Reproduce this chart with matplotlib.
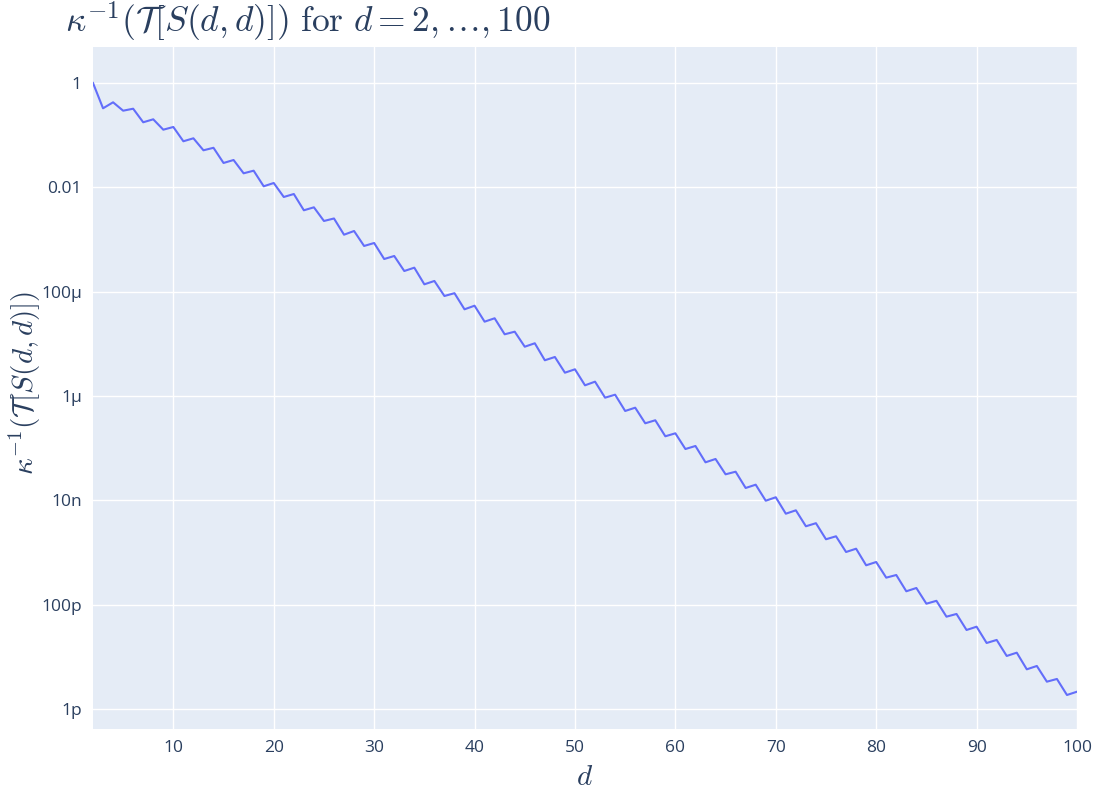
import numpy as np
import matplotlib
matplotlib.use("Agg")
import matplotlib.pyplot as plt

# d = 2..100 and the value (as powers of ten)
d = list(range(2, 101))
log_vals = [
    0.0, -0.485, -0.370, -0.531, -0.493, -0.753, -0.696, -0.895, -0.843,
    -1.117, -1.060, -1.290, -1.242, -1.533, -1.476, -1.731, -1.681, -1.980,
    -1.917, -2.185, -2.128, -2.440, -2.383, -2.645, -2.597, -2.908, -2.837,
    -3.124, -3.067, -3.374, -3.316, -3.604, -3.540, -3.859, -3.795, -4.083,
    -4.029, -4.338, -4.269, -4.575, -4.510, -4.817, -4.767, -5.055, -4.989,
    -5.315, -5.252, -5.553, -5.488, -5.795, -5.725, -6.032, -5.975, -6.287,
    -6.224, -6.523, -6.465, -6.772, -6.715, -7.016, -6.958, -7.271, -7.207,
    -7.501, -7.451, -7.763, -7.700, -8.007, -7.941, -8.256, -8.191, -8.497,
    -8.438, -8.746, -8.689, -8.990, -8.927, -9.245, -9.182, -9.482, -9.431,
    -9.743, -9.680, -9.981, -9.926, -10.230, -10.178, -10.485, -10.422,
    -10.734, -10.676, -10.983, -10.920, -11.239, -11.175, -11.476, -11.424,
    -11.731, -11.668,
]
vals = 10.0 ** np.array(log_vals)

xticks = [10, 20, 30, 40, 50, 60, 70, 80, 90, 100]
yticks = [1, 1e-2, 1e-4, 1e-6, 1e-8, 1e-10, 1e-12]
ytick_labels = ["1", "0.01", "100µ", "1µ", "10n", "100p", "1p"]

txt = "#2a3f5f"
plt.rcParams["mathtext.fontset"] = "cm"
plt.rcParams["font.family"] = ["Open Sans", "DejaVu Sans"]

fig = plt.figure(figsize=(11.02, 7.97), dpi=100)
W, H = 1102, 797
ax = fig.add_axes([93 / W, 1 - 729 / H, (1077 - 93) / W, (729 - 47) / H])
ax.set_facecolor("#E5ECF6")

ax.semilogy(d, vals, color="#636EFA", lw=1.5, zorder=3)

ax.set_xlim(2, 100)
ax.set_ylim(10 ** -12.383, 10 ** 0.690)
ax.set_xticks(xticks)
ax.set_xticklabels([str(t) for t in xticks])
ax.set_yticks(yticks)
ax.set_yticklabels(ytick_labels)
ax.yaxis.set_minor_locator(matplotlib.ticker.NullLocator())
ax.grid(True, color="white", lw=1.0, zorder=1)
ax.set_axisbelow(True)
for s in ax.spines.values():
    s.set_visible(False)
ax.tick_params(length=0, labelsize=12.5, colors=txt, pad=8)

ax.set_xlabel(r"$d$", fontsize=21, color=txt, labelpad=5)
fig.text(25 / W, 1 - 383 / H, r"$\kappa^{-1}(\mathcal{T}[S(d,d)])$", fontsize=21,
         color=txt, rotation=90, ha="center", va="center")
fig.text(65 / W, 1 - 21 / H, r"$\kappa^{-1}(\mathcal{T}[S(d,d)])\ \mathrm{for}\ d=2,\ldots,100$",
         fontsize=25.5, color=txt, ha="left", va="center")

fig.savefig("out.png", dpi=100)
